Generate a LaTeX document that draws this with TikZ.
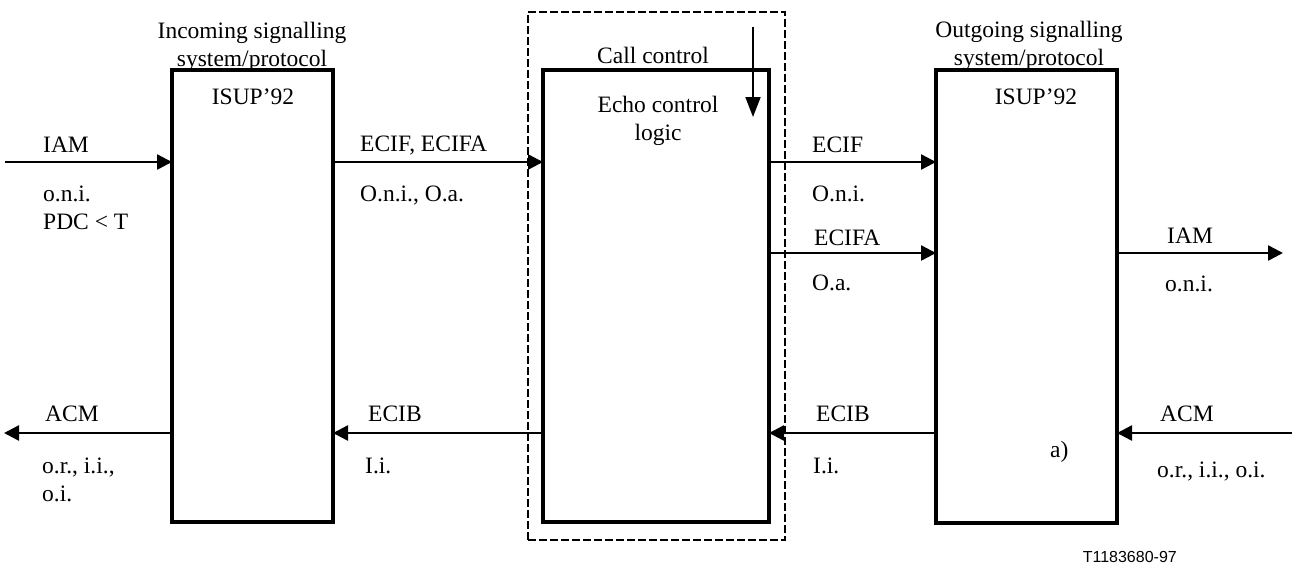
\documentclass[tikz,border=0pt]{standalone}
\usepackage{fontspec}
\setmainfont{Liberation Serif}
\newfontfamily\labsans{Liberation Sans}
\usetikzlibrary{arrows.meta}
\begin{document}
\begin{tikzpicture}[x=1pt,y=-1pt,
  blk/.style={draw,line width=4pt,inner sep=0pt,outer sep=0pt},
  grp/.style={draw,line width=1.3pt,dash pattern=on 8pt off 3pt,inner sep=0pt,outer sep=0pt},
  sig/.style={line width=2.5pt,-{Triangle[length=15pt,width=15pt]}},
  lab/.style={anchor=base west,inner sep=0pt,font=\fontsize{23.5}{28}\selectfont},
  ttl/.style={anchor=base,inner sep=0pt,font=\fontsize{23.5}{28}\selectfont},
  ref/.style={anchor=base east,inner sep=0pt,font=\labsans\fontsize{16}{19}\selectfont}]
\useasboundingbox (0,0) rectangle (1292,566);
% boxes
\node[grp,minimum width=257pt,minimum height=528pt] (cc) at (656.5,276) {};
\node[blk,minimum width=161pt,minimum height=452pt] (b1) at (252.5,296) {};
\node[blk,minimum width=226pt,minimum height=452pt] (b2) at (656,296) {};
\node[blk,minimum width=181pt,minimum height=453pt] (b3) at (1026.5,296.5) {};
% titles
\node[ttl] (t1a) at (252,38) {Incoming signalling};
\node[ttl] (t1b) at (252,66) {system/protocol};
\node[ttl] (t3a) at (1029,37) {Outgoing signalling};
\node[ttl] (t3b) at (1029,65) {system/protocol};
\node[ttl] (i1) at (253,104) {ISUP’92};
\node[ttl] (i3) at (1036,104) {ISUP’92};
\node[ttl] (ccl) at (653,63) {Call control};
\node[ttl] (ec1) at (658,112) {Echo control};
\node[ttl] (ec2) at (658,140) {logic};
% vertical arrow inside call control
\coordinate (vtop) at (753,27);
\coordinate (vbot) at (753,117);
\draw[line width=2pt,-{Triangle[length=20pt,width=15pt]}] (vtop) -- (vbot);
% free ends
\coordinate (iamLin) at (5,162);
\coordinate (iamRout) at (1283,253);
\coordinate (acmLout) at (4,433);
\coordinate (acmRin) at (1292,433);
% forward arrows
\draw[sig] (iamLin) -- (iamLin -| b1.west);
\draw[sig] (b1.east |- iamLin) -- (b2.west |- iamLin);
\draw[sig] (b2.east |- iamLin) -- (b3.west |- iamLin);
\draw[sig] (b2.east |- iamRout) -- (b3.west |- iamRout);
\draw[sig] (b3.east |- iamRout) -- (iamRout);
% backward arrows
\draw[sig] (b1.west |- acmLout) -- (acmLout);
\draw[sig] (b2.west |- acmLout) -- (b1.east |- acmLout);
\draw[sig] (b3.west |- acmLout) -- (b2.east |- acmLout);
\draw[sig] (acmRin) -- (b3.east |- acmRin);
% labels
\node[lab] (l1) at (43,152) {IAM};
\node[lab] (l2) at (43,201) {o.n.i.};
\node[lab] (l3) at (43,229) {PDC < T};
\node[lab] (l4) at (360,151) {ECIF, ECIFA};
\node[lab] (l5) at (360,201) {O.n.i., O.a.};
\node[lab] (l6) at (812,152) {ECIF};
\node[lab] (l7) at (812,201) {O.n.i.};
\node[lab] (l8) at (814,245) {ECIFA};
\node[lab] (l9) at (812,290) {O.a.};
\node[lab] (l10) at (1167,243) {IAM};
\node[lab] (l11) at (1165,291) {o.n.i.};
\node[lab] (l12) at (45,421) {ACM};
\node[lab] (l13) at (42,473) {o.r., i.i.,};
\node[lab] (l14) at (42,501) {o.i.};
\node[lab] (l15) at (368,421) {ECIB};
\node[lab] (l16) at (365,473) {I.i.};
\node[lab] (l17) at (816,421) {ECIB};
\node[lab] (l18) at (813,473) {I.i.};
\node[lab] (l19) at (1160,421) {ACM};
\node[lab] (l20) at (1157,477) {o.r., i.i., o.i.};
\node[lab] (l21) at (1050,457) {a)};
\node[ref] (code) at (1177,562) {T1183680-97};
\end{tikzpicture}
\end{document}
